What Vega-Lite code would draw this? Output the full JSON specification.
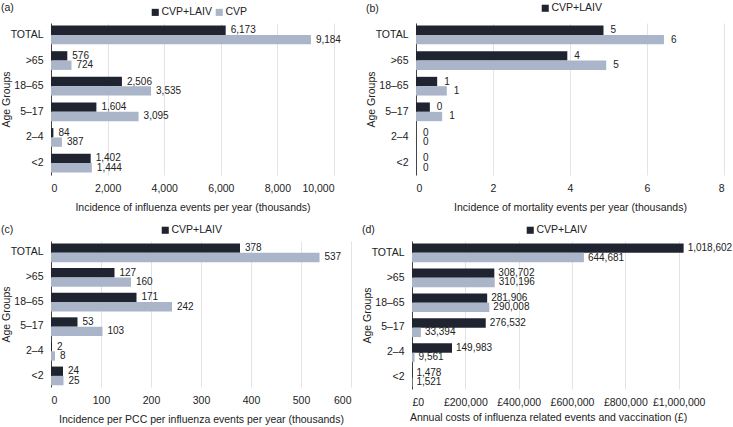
{
  "$schema": "https://vega.github.io/schema/vega-lite/v6.json",
  "background": "white",
  "padding": {"left": 0, "top": 2, "right": 0, "bottom": 0},
  "config": {
    "font": "Liberation Sans",
    "view": {"stroke": null},
    "title": {"fontSize": 10.5, "fontWeight": "normal", "color": "#222", "anchor": "start", "frame": "bounds"},
    "axisY": {"domainColor": "#444", "domainWidth": 1, "ticks": false, "grid": false, "labelFontSize": 10.5, "labelColor": "#222", "labelPadding": 8, "titleFontSize": 10.5, "titleFontWeight": "normal", "titleColor": "#222", "titleX": -40},
    "axisX": {"domain": false, "ticks": false, "grid": true, "gridColor": "#e4e4e4", "labelFontSize": 10.5, "labelColor": "#222", "labelPadding": 8, "titleFontSize": 10.5, "titleFontWeight": "normal", "titleColor": "#222", "titlePadding": 9},
    "legend": {"orient": "none", "direction": "horizontal", "title": null, "symbolType": "square", "symbolSize": 50, "symbolStrokeWidth": 0, "labelFontSize": 10.5, "labelColor": "#222", "labelOffset": 1, "columnPadding": 2, "symbolOffset": 0},
    "text": {"fontSize": 10, "color": "#222"}
  },
  "datasets": {
    "bars": [
      {"panel": "a", "group": "TOTAL", "series": "CVP+LAIV", "value": 6173},
      {"panel": "a", "group": "TOTAL", "series": "CVP", "value": 9184},
      {"panel": "a", "group": ">65", "series": "CVP+LAIV", "value": 576},
      {"panel": "a", "group": ">65", "series": "CVP", "value": 724},
      {"panel": "a", "group": "18–65", "series": "CVP+LAIV", "value": 2506},
      {"panel": "a", "group": "18–65", "series": "CVP", "value": 3535},
      {"panel": "a", "group": "5–17", "series": "CVP+LAIV", "value": 1604},
      {"panel": "a", "group": "5–17", "series": "CVP", "value": 3095},
      {"panel": "a", "group": "2–4", "series": "CVP+LAIV", "value": 84},
      {"panel": "a", "group": "2–4", "series": "CVP", "value": 387},
      {"panel": "a", "group": "<2", "series": "CVP+LAIV", "value": 1402},
      {"panel": "a", "group": "<2", "series": "CVP", "value": 1444},
      {"panel": "b", "group": "TOTAL", "series": "CVP+LAIV", "value": 4.87},
      {"panel": "b", "group": "TOTAL", "series": "CVP", "value": 6.44},
      {"panel": "b", "group": ">65", "series": "CVP+LAIV", "value": 3.93},
      {"panel": "b", "group": ">65", "series": "CVP", "value": 4.94},
      {"panel": "b", "group": "18–65", "series": "CVP+LAIV", "value": 0.55},
      {"panel": "b", "group": "18–65", "series": "CVP", "value": 0.8},
      {"panel": "b", "group": "5–17", "series": "CVP+LAIV", "value": 0.36},
      {"panel": "b", "group": "5–17", "series": "CVP", "value": 0.68},
      {"panel": "b", "group": "2–4", "series": "CVP+LAIV", "value": 0},
      {"panel": "b", "group": "2–4", "series": "CVP", "value": 0},
      {"panel": "b", "group": "<2", "series": "CVP+LAIV", "value": 0},
      {"panel": "b", "group": "<2", "series": "CVP", "value": 0},
      {"panel": "c", "group": "TOTAL", "series": "CVP+LAIV", "value": 378},
      {"panel": "c", "group": "TOTAL", "series": "CVP", "value": 537},
      {"panel": "c", "group": ">65", "series": "CVP+LAIV", "value": 127},
      {"panel": "c", "group": ">65", "series": "CVP", "value": 160},
      {"panel": "c", "group": "18–65", "series": "CVP+LAIV", "value": 171},
      {"panel": "c", "group": "18–65", "series": "CVP", "value": 242},
      {"panel": "c", "group": "5–17", "series": "CVP+LAIV", "value": 53},
      {"panel": "c", "group": "5–17", "series": "CVP", "value": 103},
      {"panel": "c", "group": "2–4", "series": "CVP+LAIV", "value": 2},
      {"panel": "c", "group": "2–4", "series": "CVP", "value": 8},
      {"panel": "c", "group": "<2", "series": "CVP+LAIV", "value": 24},
      {"panel": "c", "group": "<2", "series": "CVP", "value": 25},
      {"panel": "d", "group": "TOTAL", "series": "CVP+LAIV", "value": 1018602},
      {"panel": "d", "group": "TOTAL", "series": "CVP", "value": 644681},
      {"panel": "d", "group": ">65", "series": "CVP+LAIV", "value": 308702},
      {"panel": "d", "group": ">65", "series": "CVP", "value": 310196},
      {"panel": "d", "group": "18–65", "series": "CVP+LAIV", "value": 281906},
      {"panel": "d", "group": "18–65", "series": "CVP", "value": 290008},
      {"panel": "d", "group": "5–17", "series": "CVP+LAIV", "value": 276532},
      {"panel": "d", "group": "5–17", "series": "CVP", "value": 33394},
      {"panel": "d", "group": "2–4", "series": "CVP+LAIV", "value": 149983},
      {"panel": "d", "group": "2–4", "series": "CVP", "value": 9561},
      {"panel": "d", "group": "<2", "series": "CVP+LAIV", "value": 1478},
      {"panel": "d", "group": "<2", "series": "CVP", "value": 1521}
    ]
  },
  "data": {"name": "bars"},
  "spacing": 11,
  "resolve": {"scale": {"color": "independent"}, "legend": {"color": "independent"}},
  "vconcat": [
    {
      "spacing": 25,
      "resolve": {"scale": {"color": "independent"}, "legend": {"color": "independent"}},
      "hconcat": [
        {
          "width": 283, "height": 152,
          "title": {"text": "(a)", "offset": -6},
          "transform": [{"filter": "datum.panel === 'a'"}],
          "encoding": {
            "y": {"field": "group", "type": "nominal", "sort": ["TOTAL", ">65", "18–65", "5–17", "2–4", "<2"], "scale": {"paddingInner": 0.27, "paddingOuter": 0.1}, "axis": {"title": "Age Groups"}},
            "yOffset": {"field": "series", "type": "nominal", "sort": ["CVP+LAIV", "CVP"]},
            "x": {"field": "value", "type": "quantitative", "scale": {"domain": [0, 10000], "nice": false}, "axis": {"title": "Incidence of influenza events per year (thousands)", "values": [0, 2000, 4000, 6000, 8000, 10000], "format": ",.0f"}}
          },
          "layer": [
            {"mark": {"type": "bar"}, "encoding": {"color": {"field": "series", "type": "nominal", "scale": {"domain": ["CVP+LAIV", "CVP"], "range": ["#1f2430", "#aab5c9"]}, "legend": {"legendX": 99, "legendY": -16}}}},
            {"mark": {"type": "text", "align": "left", "baseline": "middle", "dx": 5}, "encoding": {"text": {"field": "value", "type": "quantitative", "format": ",.0f"}}}
          ]
        },
        {
          "width": 308, "height": 152,
          "title": {"text": "(b)", "offset": -11},
          "transform": [{"filter": "datum.panel === 'b'"}],
          "encoding": {
            "y": {"field": "group", "type": "nominal", "sort": ["TOTAL", ">65", "18–65", "5–17", "2–4", "<2"], "scale": {"paddingInner": 0.27, "paddingOuter": 0.1}, "axis": {"title": "Age Groups"}},
            "yOffset": {"field": "series", "type": "nominal", "sort": ["CVP+LAIV", "CVP"]},
            "x": {"field": "value", "type": "quantitative", "scale": {"domain": [0, 8], "nice": false}, "axis": {"title": "Incidence of mortality events per year (thousands)", "values": [0, 2, 4, 6, 8], "format": "d"}}
          },
          "layer": [
            {"mark": {"type": "bar"}, "encoding": {"color": {"field": "series", "type": "nominal", "scale": {"domain": ["CVP+LAIV", "CVP"], "range": ["#1f2430", "#aab5c9"]}, "legend": {"values": ["CVP+LAIV"], "legendX": 124, "legendY": -20}}}},
            {"mark": {"type": "text", "align": "left", "baseline": "middle", "dx": 7}, "encoding": {"text": {"field": "value", "type": "quantitative", "format": ",.0f"}}}
          ]
        }
      ]
    },
    {
      "spacing": 10,
      "resolve": {"scale": {"color": "independent"}, "legend": {"color": "independent"}},
      "hconcat": [
        {
          "width": 300, "height": 146,
          "title": {"text": "(c)", "offset": -10},
          "transform": [{"filter": "datum.panel === 'c'"}],
          "encoding": {
            "y": {"field": "group", "type": "nominal", "sort": ["TOTAL", ">65", "18–65", "5–17", "2–4", "<2"], "scale": {"paddingInner": 0.27, "paddingOuter": 0.1}, "axis": {"title": "Age Groups"}},
            "yOffset": {"field": "series", "type": "nominal", "sort": ["CVP+LAIV", "CVP"]},
            "x": {"field": "value", "type": "quantitative", "scale": {"domain": [0, 600], "nice": false}, "axis": {"title": "Incidence per PCC per influenza events per year (thousands)", "values": [0, 100, 200, 300, 400, 500, 600], "format": "d"}}
          },
          "layer": [
            {"mark": {"type": "bar"}, "encoding": {"color": {"field": "series", "type": "nominal", "scale": {"domain": ["CVP+LAIV", "CVP"], "range": ["#1f2430", "#aab5c9"]}, "legend": {"values": ["CVP+LAIV"], "legendX": 109, "legendY": -16}}}},
            {"mark": {"type": "text", "align": "left", "baseline": "middle", "dx": 5}, "encoding": {"text": {"field": "value", "type": "quantitative", "format": ",.0f"}}}
          ]
        },
        {
          "width": 272, "height": 148,
          "title": {"text": "(d)", "offset": -10},
          "transform": [{"filter": "datum.panel === 'd'"}],
          "encoding": {
            "y": {"field": "group", "type": "nominal", "sort": ["TOTAL", ">65", "18–65", "5–17", "2–4", "<2"], "scale": {"paddingInner": 0.27, "paddingOuter": 0.1}, "axis": {"title": "Age Groups"}},
            "yOffset": {"field": "series", "type": "nominal", "sort": ["CVP+LAIV", "CVP"]},
            "x": {"field": "value", "type": "quantitative", "scale": {"domain": [0, 1020000], "nice": false}, "axis": {"title": "Annual costs of influenza related events and vaccination (£)", "values": [0, 200000, 400000, 600000, 800000, 1000000], "labelExpr": "'£' + format(datum.value, ',')", "titlePadding": 5}}
          },
          "layer": [
            {"mark": {"type": "bar"}, "encoding": {"color": {"field": "series", "type": "nominal", "scale": {"domain": ["CVP+LAIV", "CVP"], "range": ["#1f2430", "#aab5c9"]}, "legend": {"values": ["CVP+LAIV"], "legendX": 113, "legendY": -16}}}},
            {"mark": {"type": "text", "align": "left", "baseline": "middle", "dx": 4}, "encoding": {"text": {"field": "value", "type": "quantitative", "format": ",.0f"}}}
          ]
        }
      ]
    }
  ]
}
